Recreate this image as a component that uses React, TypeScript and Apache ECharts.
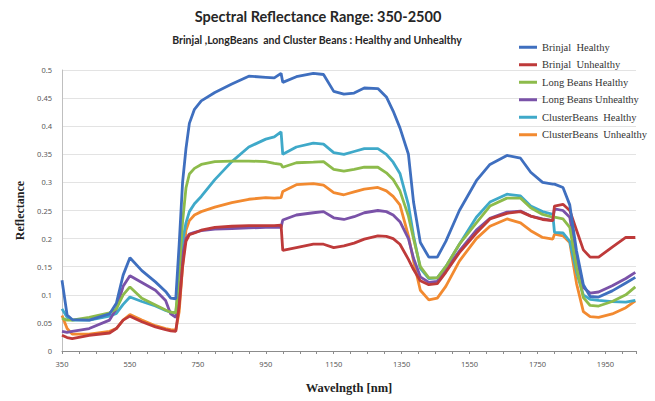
import React, { useEffect, useRef } from "react";
import * as echarts from "echarts";

const wavelengths = [350, 365, 380, 430, 490, 510, 530, 550, 585, 625, 655, 670, 685, 695, 705, 715, 725, 740, 760, 800, 850, 900, 950, 975, 995, 1000, 1040, 1090, 1120, 1150, 1180, 1210, 1240, 1280, 1305, 1325, 1345, 1370, 1385, 1405, 1430, 1455, 1480, 1520, 1570, 1610, 1660, 1700, 1730, 1765, 1795, 1800, 1825, 1845, 1865, 1885, 1905, 1930, 1970, 2010, 2038];

const brinjalHealthy = [0.126, 0.064, 0.056, 0.055, 0.066, 0.085, 0.135, 0.166, 0.143, 0.123, 0.106, 0.094, 0.093, 0.19, 0.3, 0.36, 0.405, 0.43, 0.445, 0.46, 0.475, 0.489, 0.487, 0.486, 0.494, 0.478, 0.488, 0.494, 0.492, 0.462, 0.457, 0.459, 0.468, 0.467, 0.452, 0.427, 0.397, 0.35, 0.265, 0.193, 0.167, 0.167, 0.195, 0.25, 0.303, 0.332, 0.348, 0.343, 0.318, 0.3, 0.297, 0.297, 0.291, 0.26, 0.178, 0.118, 0.097, 0.096, 0.107, 0.121, 0.131];

const brinjalUnhealthy = [0.028, 0.024, 0.022, 0.028, 0.032, 0.04, 0.055, 0.062, 0.052, 0.043, 0.038, 0.036, 0.035, 0.08, 0.15, 0.195, 0.207, 0.21, 0.215, 0.22, 0.222, 0.223, 0.223, 0.223, 0.224, 0.179, 0.184, 0.19, 0.19, 0.184, 0.187, 0.192, 0.199, 0.205, 0.204, 0.2, 0.19, 0.163, 0.145, 0.125, 0.118, 0.12, 0.14, 0.175, 0.21, 0.235, 0.245, 0.248, 0.24, 0.234, 0.232, 0.258, 0.261, 0.25, 0.215, 0.18, 0.167, 0.167, 0.185, 0.202, 0.202];

const longBeansHealthy = [0.058, 0.055, 0.055, 0.06, 0.068, 0.075, 0.1, 0.114, 0.094, 0.082, 0.073, 0.069, 0.068, 0.14, 0.23, 0.29, 0.315, 0.325, 0.332, 0.337, 0.338, 0.338, 0.337, 0.334, 0.332, 0.327, 0.335, 0.336, 0.337, 0.323, 0.32, 0.323, 0.327, 0.327, 0.317, 0.305, 0.285, 0.24, 0.2, 0.15, 0.13, 0.13, 0.15, 0.19, 0.228, 0.258, 0.272, 0.272, 0.255, 0.243, 0.238, 0.238, 0.235, 0.22, 0.148, 0.095, 0.081, 0.08, 0.088, 0.1, 0.114];

const longBeansUnhealthy = [0.035, 0.033, 0.035, 0.04, 0.055, 0.075, 0.115, 0.134, 0.122, 0.108, 0.09, 0.066, 0.06, 0.1, 0.17, 0.2, 0.208, 0.211, 0.214, 0.217, 0.218, 0.219, 0.22, 0.22, 0.22, 0.233, 0.242, 0.246, 0.248, 0.237, 0.234, 0.239, 0.246, 0.25, 0.248, 0.242, 0.23, 0.2, 0.165, 0.132, 0.122, 0.124, 0.145, 0.178, 0.215, 0.236, 0.247, 0.249, 0.24, 0.235, 0.232, 0.253, 0.25, 0.238, 0.165, 0.113, 0.103, 0.105, 0.116, 0.129, 0.14];

const clusterBeansHealthy = [0.075, 0.06, 0.055, 0.055, 0.062, 0.067, 0.083, 0.096, 0.088, 0.08, 0.072, 0.069, 0.068, 0.12, 0.195, 0.228, 0.248, 0.262, 0.275, 0.305, 0.337, 0.363, 0.377, 0.381, 0.39, 0.35, 0.363, 0.37, 0.368, 0.353, 0.35, 0.355, 0.36, 0.36, 0.35, 0.336, 0.316, 0.26, 0.205, 0.147, 0.129, 0.13, 0.15, 0.19, 0.238, 0.265, 0.279, 0.276, 0.258, 0.248, 0.243, 0.211, 0.21, 0.195, 0.14, 0.1, 0.092, 0.09, 0.088, 0.087, 0.09];

const clusterBeansUnhealthy = [0.063, 0.04, 0.03, 0.03, 0.035, 0.04, 0.055, 0.065, 0.055, 0.045, 0.04, 0.038, 0.037, 0.07, 0.15, 0.215, 0.232, 0.242, 0.248, 0.256, 0.264, 0.27, 0.273, 0.272, 0.273, 0.284, 0.296, 0.298, 0.295, 0.282, 0.278, 0.283, 0.288, 0.291, 0.285, 0.275, 0.26, 0.205, 0.16, 0.108, 0.091, 0.094, 0.115, 0.16, 0.2, 0.222, 0.235, 0.228, 0.214, 0.202, 0.199, 0.208, 0.205, 0.193, 0.12, 0.07, 0.061, 0.06, 0.066, 0.077, 0.089];

const seriesNames = [
  "Brinjal  Healthy",
  "Brinjal  Unhealthy",
  "Long Beans Healthy",
  "Long Beans Unhealthy",
  "ClusterBeans  Healthy",
  "ClusterBeans  Unhealthy",
];
const seriesValues = [brinjalHealthy, brinjalUnhealthy, longBeansHealthy, longBeansUnhealthy, clusterBeansHealthy, clusterBeansUnhealthy];
const seriesColors = ["#3F6FBF", "#BE3A3A", "#8DBB4B", "#7A52A8", "#3FA9C9", "#F28A30"];

const titleText = "Spectral Reflectance Range: 350-2500";
const subtitleText = "Brinjal ,LongBeans  and Cluster Beans : Healthy and Unhealthy";
const xAxisName = "Wavelngth [nm]";
const yAxisName = "Reflectance";

export default function App() {
  const ref = useRef<HTMLDivElement>(null);
  useEffect(() => {
    if (!ref.current) return;
    const chart = echarts.init(ref.current, null, { renderer: "svg" });
    const series = seriesNames.map((name, i) => ({
      name,
      type: "line",
      showSymbol: false,
      symbol: "none",
      data: wavelengths.map((w, j) => [w, seriesValues[i][j]]),
      lineStyle: { width: 2.8, color: seriesColors[i] },
      itemStyle: { color: seriesColors[i] },
      z: 10 - i,
    }));
    chart.setOption({
      animation: false,
      backgroundColor: "#ffffff",
      title: [
        {
          text: titleText,
          left: 318,
          top: 9,
          textAlign: "center",
          padding: 0,
          textStyle: { fontFamily: "Lato", fontWeight: "bold", fontSize: 14.5, color: "#262626" },
        },
        {
          text: subtitleText,
          left: 317,
          top: 34,
          textAlign: "center",
          padding: 0,
          textStyle: { fontFamily: "Lato", fontWeight: "bold", fontSize: 10.5, color: "#262626" },
        },
      ],
      legend: {
        orient: "vertical",
        left: 519,
        top: 38.5,
        padding: 0,
        itemGap: 0,
        itemWidth: 18,
        itemHeight: 3,
        icon: "rect",
        data: seriesNames,
        textStyle: { fontFamily: "Liberation Serif", fontSize: 10.5, color: "#333333", lineHeight: 17.5 },
      },
      grid: { left: 62, right: 19, top: 70, bottom: 50 },
      xAxis: {
        type: "value",
        min: 350,
        max: 2040,
        interval: 50,
        name: xAxisName,
        nameLocation: "middle",
        nameGap: 30,
        nameTextStyle: { fontFamily: "Liberation Serif", fontWeight: "bold", fontSize: 12.5, color: "#222" },
        axisLine: { show: true, lineStyle: { color: "#8c8c8c" } },
        axisTick: { show: true, length: 3, lineStyle: { color: "#8c8c8c" } },
        splitLine: { show: false },
        axisLabel: {
          fontFamily: "Noto Sans",
          fontSize: 7.5,
          color: "#595959",
          margin: 9,
          formatter: (v: number) => ((v - 350) % 200 === 0 ? String(v) : ""),
        },
      },
      yAxis: {
        type: "value",
        min: 0,
        max: 0.5,
        interval: 0.05,
        name: yAxisName,
        nameLocation: "middle",
        nameGap: 36,
        nameRotate: 90,
        nameTextStyle: { fontFamily: "Liberation Serif", fontWeight: "bold", fontSize: 12, color: "#222" },
        axisLine: { show: true, lineStyle: { color: "#bfbfbf" } },
        axisTick: { show: false },
        splitLine: { show: true, lineStyle: { color: "#e3e3e3" } },
        axisLabel: {
          fontFamily: "Noto Sans",
          fontSize: 7.5,
          color: "#595959",
          margin: 10,
          formatter: (v: number) => String(parseFloat(v.toFixed(2))),
        },
      },
      series,
    });
    return () => chart.dispose();
  }, []);
  return <div ref={ref} style={{ position: "fixed", left: 0, top: 0, width: 655, height: 401 }} />;
}
